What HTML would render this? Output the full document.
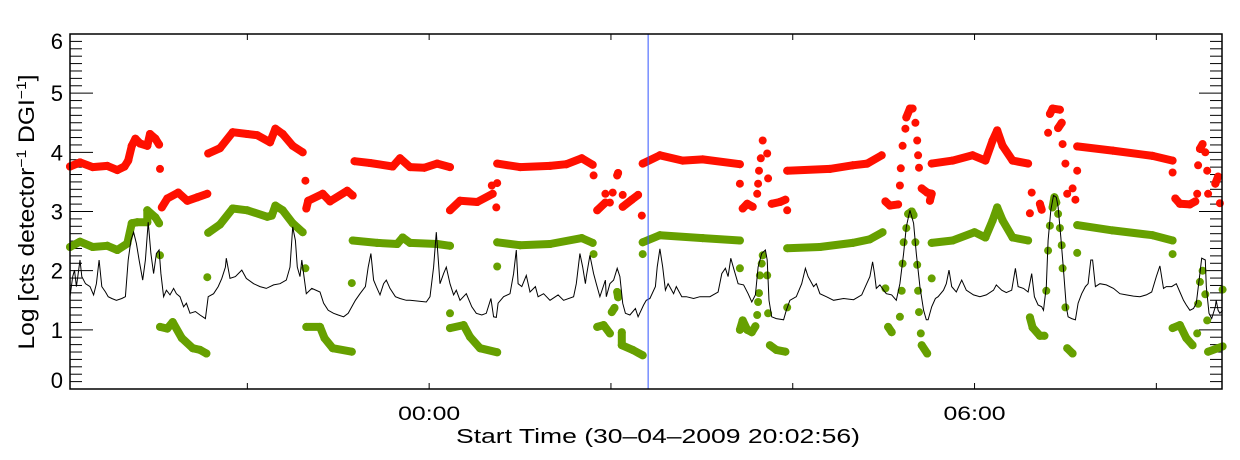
<!DOCTYPE html>
<html><head><meta charset="utf-8"><style>
html,body{margin:0;padding:0;background:#fff;}
svg{display:block;font-family:"Liberation Sans",sans-serif;}
</style></head><body>
<svg id="chart" width="1240" height="460" viewBox="0 0 1240 460" xmlns="http://www.w3.org/2000/svg">
<rect x="0" y="0" width="1240" height="460" fill="#fff"/>
<g id="axes"></g>
<g id="series"></g>
<rect x="70" y="34" width="1152" height="355" fill="none" stroke="#000" stroke-width="1.5"/>
<text transform="translate(34,212) rotate(-90)" text-anchor="middle" font-size="22" textLength="275" lengthAdjust="spacingAndGlyphs">Log [cts detector<tspan dy="-8" font-size="14">−1</tspan><tspan dy="8"> DGI</tspan><tspan dy="-8" font-size="14">−1</tspan><tspan dy="8">]</tspan></text>
<text x="456" y="443" font-size="20" textLength="404" lengthAdjust="spacingAndGlyphs">Start Time (30–04–2009 20:02:56)</text>
</svg>
<script>
// ---- data (time in hours since start 20:02:56, values in log units) ----
const yTicks = [0,1,2,3,4,5,6];
const xTickHours = [-2,0,2,4,6,8];          // clock hours relative to 00:00
const xTickLabels = ["","00:00","","","06:00",""];
const midnightOffset = 3.951;               // hours from start to 00:00
const markerTime = 6.36;

const blackT = [0,.03,.05,.07,.09,.11,.13,.17,.22,.26,.29,.32,.35,.39,.42,.46,.51,.57,.61,.64,.67,.70,.73,.76,.80,.83,.86,.89,.92,.95,.98,1.0,1.03,1.06,1.10,1.14,1.17,1.21,1.25,1.28,1.32,1.38,1.43,1.49,1.52,1.58,1.63,1.67,1.71,1.72,1.76,1.82,1.89,1.94,2.02,2.09,2.16,2.24,2.31,2.38,2.42,2.45,2.48,2.50,2.53,2.55,2.57,2.60,2.66,2.75,2.79,2.84,2.90,2.95,3.01,3.06,3.10,3.14,3.19,3.25,3.28,3.31,3.34,3.37,3.41,3.45,3.48,3.52,3.58,3.63,3.70,
3.74,3.92,3.96,4.0,4.03,4.07,4.11,4.14,4.18,4.22,4.25,4.29,4.36,4.42,4.47,4.53,4.58,4.63,4.66,4.69,4.71,4.77,4.84,4.88,4.91,4.93,4.97,5.02,5.06,5.12,5.15,5.21,5.28,5.37,5.43,5.54,5.57,5.61,5.64,5.67,5.68,5.72,5.76,5.79,5.83,5.89,5.90,5.94,5.98,6.02,6.05,6.08,6.11,6.16,6.22,6.25,6.31,6.34,6.38,6.44,6.46,6.49,6.52,6.55,6.58,6.64,6.67,6.73,6.78,6.86,6.93,7.04,7.13,7.17,7.21,7.24,7.27,7.30,7.35,7.41,7.46,7.50,7.54,7.57,7.61,7.65,7.67,7.69,7.72,7.77,7.85,7.88,7.92,7.99,8.05,8.09,8.12,8.18,8.21,
8.25,8.32,8.40,8.51,8.62,8.71,8.75,8.80,8.83,8.85,8.87,8.91,8.95,8.98,9.04,9.09,9.13,9.17,9.20,9.24,9.28,9.31,9.35,9.39,9.42,9.44,9.48,9.52,9.55,9.61,9.64,9.67,9.70,9.75,9.81,9.86,9.94,10.01,10.08,10.16,10.19,10.25,10.30,10.36,10.40,10.43,10.49,10.54,10.58,10.61,10.65,10.69,10.71,10.74,10.76,10.79,10.82,10.85,10.87,10.90,10.93,10.96,10.98,11.02,11.06,11.09,11.13,11.17,11.20,11.23,11.25,11.28,11.33,11.40,11.48,11.55,11.62,11.70,11.77,11.84,11.90,11.95,11.99,12.03,12.06,12.12,12.17,12.21,12.25,12.28,12.32,12.36,12.39,12.43,12.45,12.49,12.50,12.53,12.56,12.60,12.61,12.63,12.65,12.68];
const blackV = [1.56,1.90,2.01,1.73,1.95,2.18,1.90,1.78,1.73,1.59,1.78,2.18,1.73,1.64,1.56,1.53,1.50,1.53,1.56,2.18,2.51,2.65,2.46,2.18,1.84,2.18,2.82,2.29,1.95,2.29,2.35,1.95,1.56,1.67,1.59,1.70,1.61,1.56,1.39,1.45,1.28,1.31,1.25,1.19,1.56,1.61,1.73,1.87,2.06,2.21,1.87,1.90,2.01,1.87,1.78,1.73,1.70,1.76,1.78,1.84,2.06,2.74,2.51,2.06,1.90,2.18,1.95,1.61,1.70,1.64,1.45,1.33,1.28,1.25,1.22,1.28,1.39,1.50,1.61,1.73,2.06,2.29,1.84,1.73,1.59,1.78,1.84,1.70,1.56,1.53,1.50,
1.50,1.47,1.56,2.06,2.65,1.78,1.95,2.06,1.78,1.59,1.67,1.50,1.61,1.39,1.28,1.25,1.28,1.53,1.22,1.21,1.45,1.56,1.61,1.95,2.35,1.78,1.73,1.92,1.64,1.73,1.56,1.61,1.50,1.59,1.50,1.56,1.78,2.29,2.06,1.78,1.90,2.26,1.95,1.78,1.56,1.84,1.56,1.78,1.84,2.04,1.90,1.45,1.28,1.25,1.36,1.22,1.42,1.50,1.53,1.73,2.06,2.37,2.06,1.67,1.78,1.61,1.73,1.56,1.56,1.53,1.56,1.56,1.64,1.95,2.04,1.90,2.21,2.04,1.78,1.76,1.61,1.47,1.59,2.06,2.29,2.35,2.18,1.50,1.22,1.19,1.17,1.33,1.50,1.56,1.78,2.04,1.90,1.73,1.78,
1.61,1.56,1.50,1.53,1.51,1.59,1.73,1.90,2.15,1.95,1.70,1.76,1.67,1.61,1.59,1.50,1.78,2.29,2.74,3.02,2.80,2.29,1.73,1.33,1.17,1.17,1.39,1.53,1.56,1.67,1.78,2.01,1.73,1.64,1.84,1.67,1.59,1.56,1.59,1.67,1.76,1.67,1.63,1.67,2.04,1.73,1.70,1.64,1.95,1.56,1.42,1.39,1.33,1.73,2.51,3.02,3.27,3.24,3.08,2.57,2.01,1.39,1.22,1.19,1.17,1.45,1.61,1.73,1.78,2.18,2.18,1.73,1.78,1.76,1.70,1.61,1.59,1.57,1.56,1.59,1.64,1.90,2.08,1.70,1.73,1.73,1.78,1.64,1.50,1.42,1.33,1.36,1.45,1.95,2.21,2.18,1.73,1.28,1.19,1.39,1.50,1.33,1.28,1.33];

// red series: null entries separate bands / isolated points
const redT = [0,.11,.25,.41,.52,.60,.64,.68,.72,.77,.85,.88,.94,.98,null,.99,null,
1.01,1.07,1.19,1.29,1.40,1.51,null,1.52,1.65,1.79,1.95,2.06,2.20,2.26,2.34,2.45,2.56,null,2.59,null,
2.60,2.62,2.78,2.86,3.05,3.11,null,3.13,3.30,3.55,3.63,3.74,3.90,4.04,4.18,null,
4.18,4.29,4.48,4.65,null,4.64,null,4.69,null,4.70,null,4.70,4.95,5.28,5.46,5.63,5.75,null,5.76,null,
5.80,5.89,null,5.89,null,5.94,null,5.97,null,6.02,6.03,null,6.08,null,6.08,6.18,6.25,null,6.29,null,
6.30,6.49,6.74,6.96,7.37,null,7.37,null,7.40,7.45,7.51,null,7.56,null,7.57,null,7.58,null,7.60,null,7.62,null,7.67,null,7.68,null,7.72,7.81,7.87,null,7.89,null,
7.89,8.36,8.61,8.77,8.93,null,8.97,9.02,9.11,null,9.13,null,9.14,null,9.16,null,9.19,null,9.20,9.24,9.27,null,9.30,null,9.32,null,9.33,null,9.34,null,9.37,9.43,9.48,9.46,null,
9.48,9.71,9.93,10.07,10.15,10.20,10.26,10.37,10.54,null,10.56,null,10.58,null,10.67,10.69,null,10.76,null,10.78,10.81,10.89,null,10.87,10.91,null,10.92,null,10.95,null,10.97,null,11.03,null,11.06,null,11.08,null,
11.08,11.47,11.91,12.13,null,12.13,null,12.16,12.21,12.32,12.38,null,12.40,null,12.41,null,12.43,12.46,null,12.49,null,12.51,null,12.52,null,12.60,12.63,null,12.65];
const redV = [3.76,3.83,3.75,3.77,3.70,3.76,3.86,4.11,4.23,4.15,4.11,4.31,4.23,4.13,null,3.72,null,
3.07,3.22,3.32,3.18,3.24,3.30,null,3.98,4.07,4.34,4.31,4.29,4.17,4.40,4.31,4.11,4.00,null,3.52,null,
3.05,3.18,3.30,3.17,3.35,3.27,null,3.85,3.82,3.76,3.90,3.75,3.74,3.81,3.75,null,
3.02,3.18,3.16,3.30,null,3.44,null,3.07,null,3.48,null,3.81,3.75,3.77,3.80,3.90,3.79,null,3.61,null,
3.02,3.15,null,3.30,null,3.15,null,3.32,null,3.61,3.65,null,3.28,null,3.08,3.20,3.28,null,2.93,null,
3.81,3.95,3.86,3.88,3.80,null,3.47,null,3.05,3.13,3.08,null,3.30,null,3.47,null,3.69,null,3.90,null,4.20,null,3.98,null,3.56,null,3.13,3.16,3.20,null,3.02,null,
3.69,3.72,3.78,3.81,3.95,null,3.17,3.10,3.12,null,3.44,null,3.73,null,4.11,null,4.40,null,4.59,4.74,4.74,null,4.50,null,4.20,null,3.95,null,3.74,null,3.39,3.32,3.30,3.18,null,
3.81,3.86,3.95,3.86,4.20,4.37,4.11,3.86,3.81,null,2.97,null,3.32,null,3.13,3.03,null,4.33,null,4.65,4.74,4.72,null,4.41,4.50,null,4.14,null,3.81,null,3.30,null,3.39,null,3.20,null,3.69,null,
4.10,4.03,3.94,3.86,null,3.66,null,3.22,3.13,3.12,3.17,null,3.30,null,3.78,null,4.06,4.14,null,4.00,null,3.69,null,3.30,null,3.47,3.59,null,3.14];

const greenT = [0,.11,.25,.41,.52,.63,.68,.74,.85,.85,.94,.98,null,.99,null,
.99,1.07,1.13,1.23,1.35,1.43,1.50,null,1.51,null,1.52,1.65,1.79,1.95,2.17,2.22,2.26,2.34,2.45,2.56,null,2.59,null,
2.60,2.75,2.80,2.89,3.10,null,3.10,null,3.11,3.38,3.60,3.66,3.74,4.04,4.18,null,4.18,null,
4.18,4.33,4.40,4.51,4.70,null,4.70,null,4.70,4.95,5.28,5.63,5.75,null,5.76,null,
5.80,5.87,5.94,null,6.02,6.03,null,5.99,5.96,null,6.07,6.07,6.19,6.30,null,6.30,null,
6.30,6.49,6.96,7.37,null,7.37,null,7.37,7.40,7.45,7.50,7.54,null,7.56,null,7.57,null,7.58,null,7.59,null,7.61,null,7.62,null,7.67,null,7.68,null,7.70,7.77,7.87,null,7.89,null,
7.89,8.25,8.61,8.80,8.94,null,8.97,null,9.00,9.04,null,9.13,null,9.15,null,9.16,null,9.17,null,9.20,null,9.22,9.26,9.28,null,9.30,null,9.32,null,9.33,null,9.34,null,9.36,null,9.37,9.43,null,9.48,null,
9.48,9.71,9.95,10.07,10.15,10.20,10.26,10.37,10.54,null,
10.56,10.59,10.67,10.72,null,10.74,null,10.76,null,10.78,null,10.81,10.83,10.85,null,10.87,null,10.89,null,10.91,null,10.92,null,10.95,null,10.97,11.03,null,11.08,null,
11.08,11.47,11.91,12.13,null,12.13,null,12.13,12.21,12.28,12.35,null,12.40,null,12.41,null,12.43,null,12.46,null,12.49,null,12.51,null,12.52,12.68,null,12.68];
const greenV = [2.40,2.49,2.40,2.42,2.35,2.46,2.80,2.82,2.82,3.02,2.90,2.80,null,2.26,null,
1.05,1.02,1.13,0.86,0.69,0.66,0.60,null,1.89,null,2.64,2.78,3.05,3.02,2.91,2.93,3.10,3.02,2.80,2.65,null,2.04,null,
1.05,1.05,0.86,0.69,0.63,null,1.79,null,2.51,2.47,2.45,2.56,2.47,2.45,2.42,null,1.28,null,
1.03,1.08,0.88,0.69,0.62,null,2.07,null,2.48,2.43,2.45,2.55,2.47,null,2.28,null,
1.05,1.08,0.94,null,1.64,1.55,null,1.37,1.30,null,0.96,0.74,0.66,0.57,null,2.28,null,
2.48,2.60,2.55,2.51,null,2.04,null,1.00,1.16,1.00,0.96,1.06,null,1.25,null,1.47,null,1.62,null,1.92,null,2.12,null,2.26,null,1.92,null,1.28,null,0.74,0.66,0.63,null,1.38,null,
2.38,2.40,2.47,2.53,2.65,null,1.70,null,1.05,0.96,null,1.22,null,1.66,null,2.12,null,2.48,null,2.72,null,2.96,3.00,2.94,null,2.48,null,2.10,null,1.66,null,1.30,null,0.94,null,0.74,0.60,null,1.87,null,
2.47,2.51,2.65,2.56,2.85,3.07,2.85,2.56,2.51,null,
1.21,1.04,0.90,0.90,null,1.66,null,2.34,null,2.76,null,3.07,3.24,3.15,null,2.96,null,2.72,null,2.43,null,2.04,null,1.38,null,0.69,0.60,null,2.30,null,
2.77,2.68,2.60,2.51,null,2.28,null,1.03,1.08,0.86,0.74,null,0.94,null,1.44,null,1.81,null,2.00,null,1.60,null,1.16,null,0.63,0.72,null,1.68];

// ---- scales ----
const X0 = 70, X1 = 1222, Y0 = 389, Y1 = 34;
const tMax = (X1 - X0) / 90.9;
function xs(t){ return X0 + t / tMax * (X1 - X0); }
function ys(v){ return Y0 - v / 6 * (Y0 - Y1); }

const NS = "http://www.w3.org/2000/svg";
function mk(tag, attrs, parent){
  const e = document.createElementNS(NS, tag);
  for (const k in attrs) e.setAttribute(k, attrs[k]);
  parent.appendChild(e);
  return e;
}
const axes = document.getElementById('axes');
const series = document.getElementById('series');

// y ticks (major + minor, both sides)
for (let i = 0; i <= 48; i++) {
  const v = i * 0.125;
  const major = (i % 8 === 0);
  const L = major ? 23 : 12;
  const y = ys(v);
  const tl = mk('line', {x1: X0, x2: X0 + L, y1: y, y2: y, stroke: '#000', 'stroke-width': 1}, axes);
  
  
  const tr = mk('line', {x1: X1 - L, x2: X1, y1: y, y2: y, stroke: '#000', 'stroke-width': 1}, axes);
  
  
}
yTicks.forEach(v => {
  const cy = Math.min(380, Math.max(41, ys(v)));
  const t = mk('text', {x: 63, y: cy + 8, 'text-anchor': 'end', 'font-size': 22}, axes);
  t.textContent = String(v);
  
  
});
// x ticks
xTickHours.forEach((h, i) => {
  const x = xs(midnightOffset + h);
  if (x < X0 || x > X1) return;
  const b = mk('line', {x1: x, x2: x, y1: Y0, y2: Y0 - 6, stroke: '#000', 'stroke-width': 1}, axes);
  
  
  const tp = mk('line', {x1: x, x2: x, y1: Y1, y2: Y1 + 6, stroke: '#000', 'stroke-width': 1}, axes);
  
  
  if (xTickLabels[i]) {
    const t = mk('text', {x: x - 31, y: 420, 'font-size': 19, textLength: 62, lengthAdjust: 'spacingAndGlyphs'}, axes);
    t.textContent = xTickLabels[i];
    
    
  }
});

// dot series: consecutive points within a segment are joined into a dense band
function drawDots(T, V, color, name){
  const g = mk('g', {}, series);
  
  
  let prev = null;
  for (let i = 0; i < T.length; i++) {
    if (T[i] === null || V[i] === null) { prev = null; continue; }
    const q = [xs(T[i]), ys(V[i])];
    if (prev && Math.abs(q[1] - prev[1]) < 30 && Math.abs(q[0] - prev[0]) < 45) {
      const l = mk('line', {x1: prev[0].toFixed(1), y1: prev[1].toFixed(1), x2: q[0].toFixed(1), y2: q[1].toFixed(1), stroke: color, 'stroke-width': 8, 'stroke-linecap': 'round'}, g);
      
      
    }
    const c = mk('circle', {cx: q[0].toFixed(1), cy: q[1].toFixed(1), r: 4, fill: color}, g);
    
    
    prev = q;
  }
}
drawDots(redT, redV, '#ff1000', 'red-series');
drawDots(greenT, greenV, '#66a000', 'green-series');

// black line
const bl = mk('polyline', {points: blackT.map((t, i) => xs(t).toFixed(1) + ',' + ys(blackV[i]).toFixed(1)).join(' '), fill: 'none', stroke: '#000', 'stroke-width': 1}, series);



// marker line
const mx = xs(markerTime);
const ml = mk('line', {x1: mx, x2: mx, y1: Y1, y2: Y0, stroke: '#3355ff', 'stroke-width': 1}, series);


</script>
</body></html>
